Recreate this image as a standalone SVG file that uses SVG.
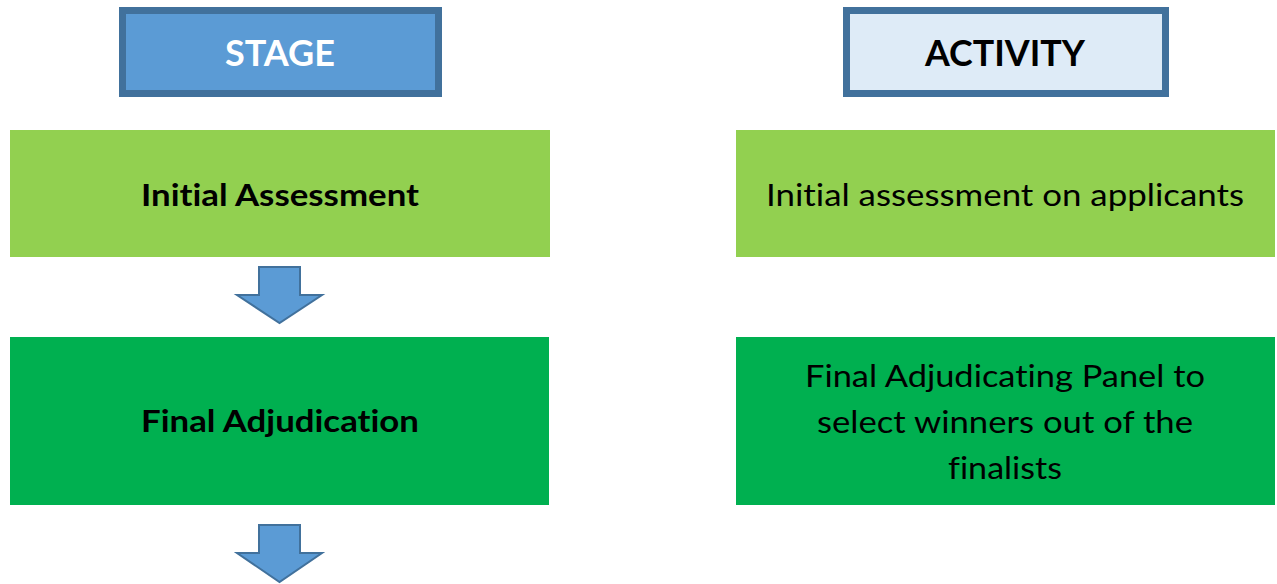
<svg xmlns="http://www.w3.org/2000/svg" width="1277" height="584" viewBox="0 0 1277 584">
<style>
.hdr{stroke:#41719C;stroke-width:7}
.t{font-family:Lato,"Open Sans","Liberation Sans",sans-serif;text-anchor:middle;fill:#000;font-variant-ligatures:none;font-feature-settings:"liga" 0,"clig" 0,"dlig" 0}
.b{font-weight:bold}
.arrow{fill:#5B9BD5;stroke:#41719C;stroke-width:2;stroke-linejoin:miter}
</style>
<rect width="1277" height="584" fill="#fff"/>
<g id="stage-header">
<rect class="hdr" x="122.5" y="10.5" width="316" height="83" fill="#5B9BD5"/>
<text class="t b" x="280" y="66" font-size="37" style="fill:#fff" textLength="110" lengthAdjust="spacingAndGlyphs">STAGE</text>
</g>
<g id="activity-header">
<rect class="hdr" x="846.5" y="10.5" width="319" height="83" fill="#DEEBF7"/>
<text class="t b" x="1005" y="66" font-size="37" textLength="160" lengthAdjust="spacingAndGlyphs">ACTIVITY</text>
</g>
<g id="initial-assessment">
<rect x="10" y="130" width="540" height="127" fill="#92D050"/>
<text class="t b" x="280" y="206" font-size="30" textLength="278" lengthAdjust="spacingAndGlyphs">Initial Assessment</text>
</g>
<g id="final-adjudication">
<rect x="10" y="337" width="539" height="168" fill="#00B050"/>
<text class="t b" x="280" y="432" font-size="30" textLength="278" lengthAdjust="spacingAndGlyphs">Final Adjudication</text>
</g>
<g id="activity-initial">
<rect x="736" y="130" width="539" height="127" fill="#92D050"/>
<text class="t" x="1005" y="206" font-size="30" textLength="478" lengthAdjust="spacingAndGlyphs">Initial assessment on applicants</text>
</g>
<g id="activity-final">
<rect x="736" y="337" width="539" height="168" fill="#00B050"/>
<text class="t" x="1005" y="387" font-size="30" textLength="400" lengthAdjust="spacingAndGlyphs">Final Adjudicating Panel to</text>
<text class="t" x="1005" y="433" font-size="30" textLength="376" lengthAdjust="spacingAndGlyphs">select winners out of the</text>
<text class="t" x="1005" y="479" font-size="30" textLength="114" lengthAdjust="spacingAndGlyphs">finalists</text>
</g>
<g id="connectors">
<polygon class="arrow" points="259,267 300,267 300,295 322,295 279.5,323 237,295 259,295"/>
<polygon class="arrow" points="259,525 300,525 300,553 322,553 279.5,582 237,553 259,553"/>
</g>
</svg>
